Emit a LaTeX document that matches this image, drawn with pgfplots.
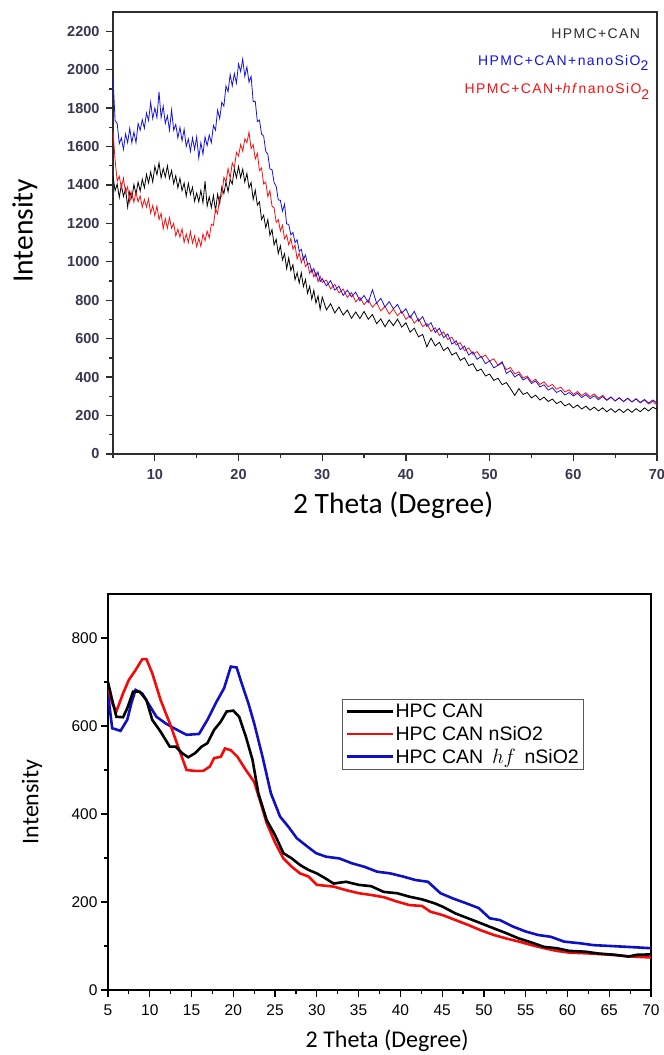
\documentclass[border=0pt]{standalone}
\usepackage{fontspec}
\setmainfont{Liberation Sans}
\newfontfamily\calfont{Carlito}
\newfontfamily\spacedfont[LetterSpace=10]{Liberation Sans}
\usepackage{pgfplots}
\pgfplotsset{compat=1.18}

\definecolor{axgray}{RGB}{45,45,45}
\definecolor{tickc}{RGB}{55,55,80}
\definecolor{tblue}{RGB}{20,20,225}
\definecolor{tred}{RGB}{250,15,15}
\definecolor{bblue}{RGB}{15,15,195}
\definecolor{bred}{RGB}{245,10,10}

\begin{document}
\begin{tikzpicture}
\useasboundingbox (0pt,0pt) rectangle (664pt,-1055pt);

% ---------------- upper chart: HPMC ----------------
\begin{axis}[
    at={(113pt,-454pt)}, anchor=south west,
    scale only axis, width=544pt, height=442pt,
    xmin=5, xmax=70, ymin=0, ymax=2300,
    axis line style={line width=1.3pt, draw=axgray},
    tick pos=left, tick align=outside,
    xtick={10,20,...,70}, minor xtick={5,15,...,65},
    ytick={0,200,...,2200}, minor ytick={100,300,...,2100},
    major tick length=7pt, minor tick length=4pt,
    tick style={line width=1.3pt, draw=axgray},
    tick label style={font=\bfseries\fontsize{14.5}{16}\selectfont, text=tickc},
    /pgf/number format/assume math mode=true,
    /pgf/number format/set thousands separator={},
    xticklabel style={yshift=-5pt},
    yticklabel style={xshift=-3pt},
    xlabel={2 Theta (Degree)}, ylabel={Intensity},
    label style={font=\calfont\fontsize{29.5}{32}\selectfont},
    xlabel style={at={(axis description cs:0.515,-0.115)}, anchor=center},
    ylabel style={at={(axis description cs:-0.162,0.505)}, anchor=center},
]
% HPMC+CAN
\addplot[black, line width=0.8pt] coordinates {
(5.00,1445)(5.25,1370)(5.50,1405)(5.75,1335)(6.00,1400)(6.25,1340)(6.50,1380)(6.75,1285)
(7.00,1365)(7.25,1330)(7.50,1402)(7.75,1352)(8.00,1415)(8.25,1368)(8.50,1430)(8.75,1385)
(9.00,1455)(9.25,1410)(9.50,1468)(9.75,1415)(10.00,1497)(10.25,1453)(10.50,1515)(10.75,1437)
(11.00,1485)(11.25,1441)(11.50,1500)(11.75,1433)(12.00,1475)(12.25,1407)(12.50,1448)(12.75,1385)
(13.00,1435)(13.25,1370)(13.50,1410)(13.75,1342)(14.00,1409)(14.25,1351)(14.50,1388)(14.75,1315)
(15.00,1358)(15.25,1312)(15.50,1372)(15.75,1307)(16.00,1420)(16.25,1290)(16.50,1338)(16.75,1283)
(17.00,1345)(17.25,1265)(17.50,1352)(17.75,1302)(18.00,1390)(18.25,1355)(18.50,1415)(18.75,1365)
(19.00,1430)(19.25,1405)(19.50,1485)(19.75,1438)(20.00,1496)(20.25,1438)(20.50,1482)(20.75,1415)
(21.00,1460)(21.25,1385)(21.50,1412)(21.75,1325)(22.00,1373)(22.25,1295)(22.50,1312)(22.75,1220)
(23.00,1243)(23.25,1178)(23.50,1220)(23.75,1138)(24.00,1168)(24.25,1088)(24.50,1118)(24.75,1043)
(25.00,1083)(25.25,1010)(25.50,1042)(25.75,964)(26.00,1021)(26.25,955)(26.50,985)(26.75,907)
(27.00,943)(27.25,890)(27.50,943)(27.75,871)(28.00,908)(28.25,836)(28.50,873)(28.75,805)
(29.00,852)(29.25,785)(29.50,823)(29.75,752)(30.00,817)
(30.5,750)(31,782)(31.5,734)(32,765)(32.5,723)(33,749)(33.5,706)(34,739)(34.5,705)(35,742)
(35.5,701)(36,726)(36.5,678)(37,703)(37.5,662)(38,698)(38.5,668)(39,702)(39.5,660)(40,683)
(40.5,634)(41,655)(41.5,610)(42,622)(42.5,558)(43,603)(43.5,563)(44,581)(44.5,538)(45,555)
(45.5,515)(46,528)(46.5,487)(47,501)(47.5,460)(48,470)(48.5,432)(49,442)(49.5,406)(50,416)
(50.5,383)(51,394)(51.5,361)(52,372)(52.5,340)(53,305)(53.5,340)(54,310)(54.5,320)(55,292)
(55.5,306)(56,281)(56.5,296)(57,273)(57.5,286)(58,262)(58.5,274)(59,250)(59.5,262)(60,240)
(60.5,255)(61,234)(61.5,249)(62,228)(62.5,244)(63,224)(63.5,240)(64,220)(64.5,236)(65,217)
(65.5,234)(66,216)(66.5,234)(67,217)(67.5,236)(68,220)(68.5,240)(69,224)(69.5,244)(70,232)
};
% HPMC+CAN+hf nanoSiO2
\addplot[tred, line width=0.8pt] coordinates {
(5.00,1680)(5.25,1530)(5.50,1420)(5.75,1445)(6.00,1385)(6.25,1435)(6.50,1360)(6.75,1390)
(7.00,1310)(7.25,1362)(7.50,1310)(7.75,1363)(8.00,1312)(8.25,1343)(8.50,1284)(8.75,1325)
(9.00,1285)(9.25,1328)(9.50,1253)(9.75,1293)(10.00,1240)(10.25,1290)(10.50,1220)(10.75,1252)
(11.00,1172)(11.25,1225)(11.50,1175)(11.75,1230)(12.00,1175)(12.25,1200)(12.50,1135)(12.75,1170)
(13.00,1128)(13.25,1172)(13.50,1101)(13.75,1145)(14.00,1100)(14.25,1158)(14.50,1097)(14.75,1136)
(15.00,1078)(15.25,1123)(15.50,1080)(15.75,1145)(16.00,1110)(16.25,1160)(16.50,1125)(16.75,1195)
(17.00,1190)(17.25,1275)(17.50,1250)(17.75,1340)(18.00,1340)(18.25,1440)(18.50,1415)(18.75,1485)
(19.00,1435)(19.25,1515)(19.50,1490)(19.75,1570)(20.00,1550)(20.25,1610)(20.50,1575)(20.75,1640)
(21.00,1620)(21.25,1675)(21.50,1590)(21.75,1610)(22.00,1535)(22.25,1565)(22.50,1475)(22.75,1488)
(23.00,1405)(23.25,1415)(23.50,1340)(23.75,1370)(24.00,1290)(24.25,1280)(24.50,1205)(24.75,1220)
(25.00,1160)(25.25,1190)(25.50,1120)(25.75,1140)(26.00,1088)(26.25,1122)(26.50,1066)(26.75,1087)
(27.00,1015)(27.25,1045)(27.50,995)(27.75,1025)(28.00,975)(28.25,992)(28.50,940)(28.75,963)
(29.00,921)(29.25,946)(29.50,897)(29.75,925)(30.00,893)
(30.5,905)(31,859)(31.5,883)(32,838)(32.5,858)(33,815)(33.5,840)(34,792)(34.5,815)(35,777)
(35.5,802)(36,764)(36.5,788)(37,745)(37.5,768)(38,728)(38.5,754)(39,720)(39.5,743)(40,701)
(40.5,721)(41,681)(41.5,704)(42,663)(42.5,679)(43,638)(43.5,657)(44,617)(44.5,636)(45,596)
(45.5,608)(46,567)(46.5,579)(47,538)(47.5,552)(48,519)(48.5,533)(49,501)(49.5,515)(50,484)
(50.5,495)(51,462)(51.5,473)(52,439)(52.5,450)(53,417)(53.5,428)(54,395)(54.5,406)(55,376)
(55.5,389)(56,362)(56.5,375)(57,350)(57.5,362)(58,337)(58.5,348)(59,323)(59.5,334)(60,310)
(60.5,325)(61,304)(61.5,319)(62,298)(62.5,313)(63,291)(63.5,305)(64,283)(64.5,297)(65,276)
(65.5,293)(66,273)(66.5,290)(67,271)(67.5,287)(68,266)(68.5,281)(69,260)(69.5,274)(70,255)
};
% HPMC+CAN+nanoSiO2
\addplot[tblue, line width=0.8pt] coordinates {
(5.00,1960)(5.25,1735)(5.50,1720)(5.75,1615)(6.00,1645)(6.25,1585)(6.50,1665)(6.75,1620)
(7.00,1695)(7.25,1620)(7.50,1675)(7.75,1620)(8.00,1720)(8.25,1685)(8.50,1740)(8.75,1695)
(9.00,1775)(9.25,1735)(9.50,1830)(9.75,1745)(10.00,1800)(10.25,1750)(10.50,1885)(10.75,1750)
(11.00,1810)(11.25,1720)(11.50,1760)(11.75,1685)(12.00,1790)(12.25,1685)(12.50,1715)(12.75,1645)
(13.00,1700)(13.25,1630)(13.50,1690)(13.75,1600)(14.00,1640)(14.25,1575)(14.50,1645)(14.75,1585)
(15.00,1650)(15.25,1540)(15.50,1620)(15.75,1560)(16.00,1650)(16.25,1605)(16.50,1660)(16.75,1620)
(17.00,1710)(17.25,1685)(17.50,1790)(17.75,1745)(18.00,1830)(18.25,1810)(18.50,1915)(18.75,1885)
(19.00,1975)(19.25,1915)(19.50,1980)(19.75,1930)(20.00,2030)(20.25,1990)(20.50,2055)(20.75,1965)
(21.00,2015)(21.25,1935)(21.50,1965)(21.75,1835)(22.00,1835)(22.25,1730)(22.50,1738)(22.75,1665)
(23.00,1655)(23.25,1575)(23.50,1560)(23.75,1483)(24.00,1480)(24.25,1412)(24.50,1392)(24.75,1322)
(25.00,1320)(25.25,1263)(25.50,1300)(25.75,1197)(26.00,1195)(26.25,1140)(26.50,1153)(26.75,1100)
(27.00,1115)(27.25,1055)(27.50,1065)(27.75,1013)(28.00,1035)(28.25,987)(28.50,992)(28.75,947)
(29.00,965)(29.25,923)(29.50,947)(29.75,897)(30.00,913)
(30.5,875)(31,902)(31.5,853)(32,873)(32.5,825)(33,853)(33.5,818)(34,842)(34.5,797)(35,825)
(35.5,788)(36,855)(36.5,785)(37,810)(37.5,765)(38,793)(38.5,756)(39,778)(39.5,733)(40,756)
(40.5,708)(41,743)(41.5,691)(42,715)(42.5,664)(43,683)(43.5,632)(44,654)(44.5,605)(45,625)
(45.5,572)(46,589)(46.5,543)(47,562)(47.5,515)(48,532)(48.5,493)(49,508)(49.5,470)(50,485)
(50.5,448)(51,462)(51.5,480)(52,419)(52.5,434)(53,401)(53.5,416)(54,385)(54.5,398)(55,367)
(55.5,380)(56,349)(56.5,360)(57,332)(57.5,345)(58,320)(58.5,331)(59,307)(59.5,320)(60,302)
(60.5,316)(61,294)(61.5,309)(62,288)(62.5,303)(63,283)(63.5,299)(64,279)(64.5,295)(65,276)
(65.5,292)(66,273)(66.5,290)(67,271)(67.5,287)(68,268)(68.5,284)(69,265)(69.5,281)(70,265)
};
\node[anchor=base east, text=axgray, font=\spacedfont\fontsize{14}{16}\selectfont]
  at (axis cs:68.4,2164) {HPMC+CAN};
\node[anchor=base east, text=tblue, font=\spacedfont\fontsize{14}{16}\selectfont]
  at (axis cs:69.4,2024) {HPMC+CAN+nanoSiO\raisebox{-5pt}{2}};
\node[anchor=base east, text=tred, font=\spacedfont\fontsize{14}{16}\selectfont]
  at (axis cs:69.5,1878) {HPMC+CAN+\textit{hf}nanoSiO\raisebox{-6pt}{2}};
\end{axis}

% ---------------- lower chart: HPC ----------------
\begin{axis}[
    at={(108pt,-990pt)}, anchor=south west,
    scale only axis, width=543pt, height=396pt,
    xmin=5, xmax=70, ymin=0, ymax=900,
    axis line style={line width=1.3pt, draw=black},
    tick pos=left, tick align=outside,
    xtick={5,10,...,70}, minor xtick={7.5,12.5,...,67.5},
    ytick={0,200,...,800}, minor ytick={100,300,...,700},
    major tick length=7pt, minor tick length=4pt,
    tick style={line width=1.2pt, draw=black},
    tick label style={font=\fontsize{15.5}{17}\selectfont},
    /pgf/number format/assume math mode=true,
    xticklabel style={yshift=-4pt},
    xlabel={2 Theta (Degree)}, ylabel={Intensity},
    label style={font=\calfont\fontsize{24}{26}\selectfont},
    xlabel style={at={(axis description cs:0.514,-0.128)}, anchor=center},
    ylabel style={at={(axis description cs:-0.14,0.475)}, anchor=center},
    reverse legend,
    legend style={at={(axis description cs:0.431,0.735)}, anchor=north west,
        draw=gray!70!black, line width=0.9pt, font=\fontsize{19.5}{21}\selectfont,
        inner xsep=3pt, inner ysep=3pt, row sep=4pt,
        nodes={inner sep=1.5pt}},
    legend cell align=left,
    legend image code/.code={\draw[#1, line width=2.6pt] (0pt,0pt) -- (46pt,0pt);},
]
\addplot[bblue, line width=2.6pt] coordinates {
(5,674)(5.5,595)(6.5,589)(7.3,614)(7.8,652)(8.3,682)(9.1,674)(9.8,652)(10.8,621)(11.9,606)
(12.9,595)(14.4,580)(15.9,582)(16.9,614)(17.9,652)(18.9,686)(19.7,735)(20.4,733)(21,697)
(21.8,652)(22.5,606)(23.5,530)(24.5,447)(25.6,394)(26.6,371)(27.6,345)(28.6,330)(29.9,311)
(31.1,303)(32.7,299)(34.2,288)(35.7,280)(37.2,269)(38.8,265)(40.3,258)(41.8,250)(43.3,246)
(44.8,220)(46.3,208)(47.9,197)(49.4,186)(50.7,163)(51.9,159)(53.5,144)(55,133)(56.5,125)
(58,121)(59.6,110)(61.6,106)(63.1,102)(65.2,100)(68.2,97)(70,95)
};
\addlegendentry{HPC CAN \,$hf$\, nSiO2}
\addplot[bred, line width=2.6pt] coordinates {
(5,689)(5.5,652)(6,633)(6.8,674)(7.5,705)(8.3,727)(9.1,752)(9.6,752)(10.3,720)(11.3,659)
(12.4,606)(13.4,553)(14.4,500)(15.4,498)(16.4,498)(17.2,508)(17.7,527)(18.5,530)(19,549)
(19.7,545)(20.5,530)(21.5,500)(22.5,473)(23.3,424)(24,379)(25,335)(26,299)(27,280)(28,265)
(29,258)(30,239)(32,235)(33.5,227)(35,220)(36.5,216)(38,211)(39.6,201)(41.1,193)(42.6,191)
(43.6,178)(45.1,170)(46.6,159)(48.1,148)(49.6,136)(51.2,125)(52.7,117)(54.2,110)(55.7,102)
(57.2,95)(58.7,89)(60.2,85)(62.7,83)(65.2,80)(67.8,76)(70,74)
};
\addlegendentry{HPC CAN nSiO2}
\addplot[black, line width=2.6pt] coordinates {
(5,700)(5.5,659)(6,621)(6.8,620)(7.3,640)(8,678)(8.8,678)(9.6,659)(10.3,614)(11.3,587)
(12.4,553)(13.1,553)(13.9,538)(14.6,529)(15.4,538)(16.2,553)(16.9,561)(17.7,591)(18.5,610)
(19.2,633)(20,635)(20.7,621)(21.5,576)(22.3,523)(23,447)(24,386)(25,352)(26,311)(27,299)
(28,284)(29,273)(30,265)(31,254)(32,242)(33.5,246)(35,239)(36.5,236)(38,223)(39.6,220)
(41.1,212)(42.6,206)(44.1,197)(45.1,189)(46.6,174)(48.1,163)(49.6,152)(51.2,140)(52.7,129)
(54.2,117)(55.7,108)(57.2,98)(58.7,95)(60.2,89)(62.2,87)(63.7,83)(65.7,80)(67.3,76)(68.3,80)(70,81)
};
\addlegendentry{HPC CAN}
\end{axis}
\end{tikzpicture}
\end{document}
